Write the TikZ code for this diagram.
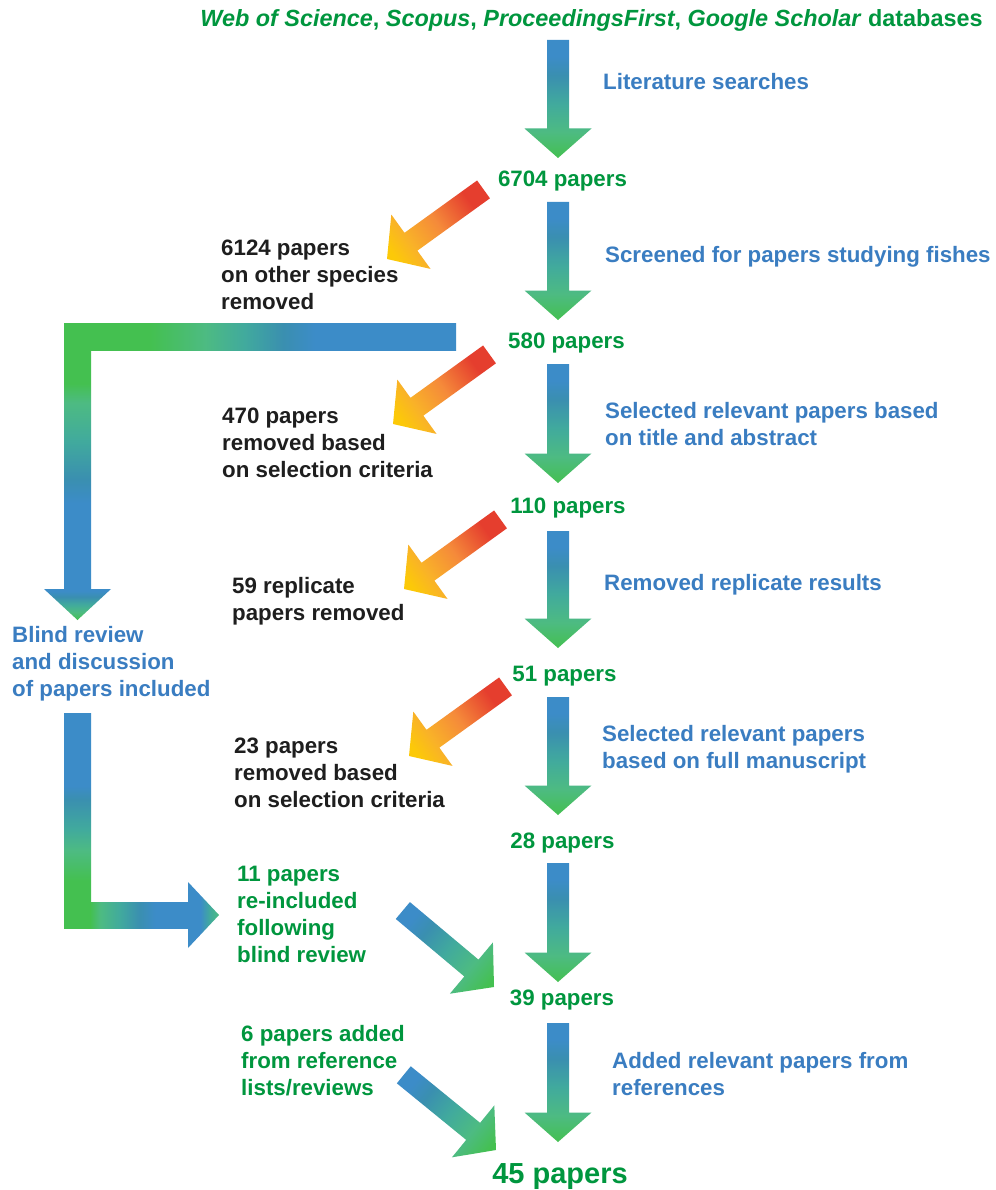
\documentclass[tikz,border=0pt]{standalone}
\usepackage{fontspec}
\setmainfont{Liberation Sans}
\usetikzlibrary{calc}

\definecolor{txtgreen}{RGB}{0,150,62}
\definecolor{txtblue}{RGB}{58,125,193}
\definecolor{txtblack}{RGB}{30,30,30}
\definecolor{aB}{RGB}{60,140,200}
\definecolor{aS}{RGB}{58,143,176}
\definecolor{aT}{RGB}{65,170,157}
\definecolor{aL}{RGB}{77,187,130}
\definecolor{aG}{RGB}{68,192,80}
\definecolor{oY}{RGB}{252,201,8}
\definecolor{oA}{RGB}{249,178,40}
\definecolor{oO}{RGB}{245,138,58}
\definecolor{oR}{RGB}{229,62,46}

\pgfdeclareverticalshading{mainV}{100bp}{color(0bp)=(aG); color(25bp)=(aG); color(36bp)=(aL); color(48bp)=(aT); color(60bp)=(aS); color(68bp)=(aB); color(100bp)=(aB)}
\pgfdeclareverticalshading{diagBG}{100bp}{color(0bp)=(aG); color(20bp)=(aG); color(33bp)=(aL); color(48bp)=(aT); color(63bp)=(aS); color(73bp)=(aB); color(100bp)=(aB)}
\pgfdeclareverticalshading{diagOR}{100bp}{color(0bp)=(oY); color(22bp)=(oY); color(33bp)=(oA); color(50bp)=(oO); color(70bp)=(oR); color(100bp)=(oR)}
\pgfdeclarehorizontalshading{LtopH}{100bp}{color(0bp)=(aG); color(36bp)=(aG); color(43bp)=(aL); color(48bp)=(aT); color(53bp)=(aS); color(57bp)=(aB); color(100bp)=(aB)}
\pgfdeclareverticalshading{LtopV}{100bp}{color(0bp)=(aB); color(43bp)=(aB); color(48bp)=(aS); color(56bp)=(aT); color(64bp)=(aL); color(68bp)=(aG); color(100bp)=(aG)}
\pgfdeclareverticalshading{headV}{100bp}{color(0bp)=(aG); color(25bp)=(aG); color(38bp)=(aL); color(50bp)=(aT); color(62bp)=(aS); color(72bp)=(aB); color(100bp)=(aB)}
\pgfdeclareverticalshading{LbotV}{100bp}{color(0bp)=(aG); color(36bp)=(aG); color(43bp)=(aL); color(48bp)=(aT); color(55bp)=(aS); color(58bp)=(aB); color(100bp)=(aB)}
\pgfdeclarehorizontalshading{LbotH}{100bp}{color(0bp)=(aG); color(25bp)=(aG); color(30bp)=(aL); color(40bp)=(aT); color(50bp)=(aS); color(58bp)=(aB); color(100bp)=(aB)}
\pgfdeclarehorizontalshading{headH}{100bp}{color(0bp)=(aB); color(45bp)=(aB); color(60bp)=(aT); color(75bp)=(aL); color(100bp)=(aL)}

% vertical block arrow: #1 x centre, #2 top y, #3 tip y (pixel coordinates, y downwards)
\newcommand\varrow[3]{%
  \shade[shading=mainV] (#1-11,#2) -- (#1+11,#2) -- (#1+11,#3-29.5) -- (#1+33.5,#3-29.5)
    -- (#1,#3) -- (#1-33.5,#3-29.5) -- (#1-11,#3-29.5) -- cycle;}
% diagonal block arrow: #1 tip coordinate name, #2 back angle (pixel), #3 shading, #4 shading angle
\newcommand\darrow[4]{%
  \shade[shading=#3, shading angle=#4] (#1)
    -- ($(#1)+(#2:29.5)+(#2+90:33.5)$) -- ($(#1)+(#2:29.5)+(#2+90:11)$)
    -- ($(#1)+(#2:119)+(#2+90:11)$) -- ($(#1)+(#2:119)+(#2-90:11)$)
    -- ($(#1)+(#2:29.5)+(#2-90:11)$) -- ($(#1)+(#2:29.5)+(#2-90:33.5)$) -- cycle;}

\tikzset{
  txtbase/.style={inner sep=0pt, font=\fontsize{22.3}{26.7}\selectfont\bfseries, align=left},
  gnum/.style={txtbase, text=txtgreen, anchor=base},
  glab/.style={txtbase, text=txtgreen, anchor=base west},
  blab/.style={txtbase, text=txtblue, anchor=base west},
  klab/.style={txtbase, text=txtblack, anchor=base west},
}

\begin{document}
\begin{tikzpicture}[x=1pt,y=-1pt]
\fill[white] (0,0) rectangle (995,1190);
\useasboundingbox (0,0) rectangle (995,1190);

% ---- main column arrows
\varrow{558}{40}{158}
\varrow{558}{202}{320}
\varrow{558}{364}{483}
\varrow{558}{531}{648}
\varrow{558}{697}{815}
\varrow{558}{863}{982}
\varrow{558}{1023}{1142}

% ---- orange "removed" arrows
\coordinate (o1) at (387,259);
\coordinate (o2) at (393,424);
\coordinate (o3) at (404,589);
\coordinate (o4) at (409,756);
\darrow{o1}{-35.8}{diagOR}{-54.2}
\darrow{o2}{-35.8}{diagOR}{-54.2}
\darrow{o3}{-35.8}{diagOR}{-54.2}
\darrow{o4}{-35.8}{diagOR}{-54.2}

% ---- blue-green "added" arrows
\coordinate (d1) at (494,987);
\coordinate (d2) at (496,1150);
\darrow{d1}{-140}{diagBG}{50}
\darrow{d2}{-140.8}{diagBG}{50.8}

% ---- upper L arrow (to blind review)
\shade[shading=LtopH] (64,323) rectangle (456,350);
\shade[shading=LtopV] (64,350) rectangle (91,589.5);
\shade[shading=headV] (44,589) -- (111,589) -- (77.5,620) -- cycle;

% ---- lower L arrow (from blind review)
\shade[shading=LbotV] (64,713) rectangle (91,928);
\shade[shading=LbotH] (90.5,902) rectangle (188.5,928);
\shade[shading=headH] (188,882) -- (219,915) -- (188,948) -- cycle;

% ---- texts (multi-line nodes: base = baseline of last line)
\node[gnum, font=\fontsize{23.4}{28}\selectfont\bfseries] (db) at (591.5,27) {\textit{Web of Science}, \textit{Scopus}, \textit{ProceedingsFirst}, \textit{Google Scholar} databases};
\node[gnum] (n6704) at (562.5,187) {6704 papers};
\node[gnum] (n580) at (566.5,348) {580 papers};
\node[gnum] (n110) at (568,513) {110 papers};
\node[gnum] (n51) at (564.5,681) {51 papers};
\node[gnum] (n28) at (562.5,848) {28 papers};
\node[gnum] (n39) at (562,1005) {39 papers};
\node[gnum, font=\fontsize{29}{34}\selectfont\bfseries] (n45) at (560,1183.5) {45 papers};

\node[blab] (lsearch) at (603,90) {Literature searches};
\node[blab] (screen) at (605,262) {Screened for papers studying fishes};
\node[blab] (seltitle) at (605,445) {Selected relevant papers based\\on title and abstract};
\node[blab] (remrep) at (604,590) {Removed replicate results};
\node[blab] (selfull) at (602,768) {Selected relevant papers\\based on full manuscript};
\node[blab] (addref) at (612,1095) {Added relevant papers from\\references};
\node[blab] (blind) at (12,696) {Blind review\\and discussion\\of papers included};

\node[klab] (rm6124) at (221,309) {6124 papers\\on other species\\removed};
\node[klab] (rm470) at (222,477) {470 papers\\removed based\\on selection criteria};
\node[klab] (rm59) at (232,620) {59 replicate\\papers removed};
\node[klab] (rm23) at (234,807) {23 papers\\removed based\\on selection criteria};

\node[glab] (re11) at (237,962) {11 papers\\re-included\\following\\blind review};
\node[glab] (add6) at (241,1095) {6 papers added\\from reference\\lists/reviews};
\end{tikzpicture}
\end{document}
